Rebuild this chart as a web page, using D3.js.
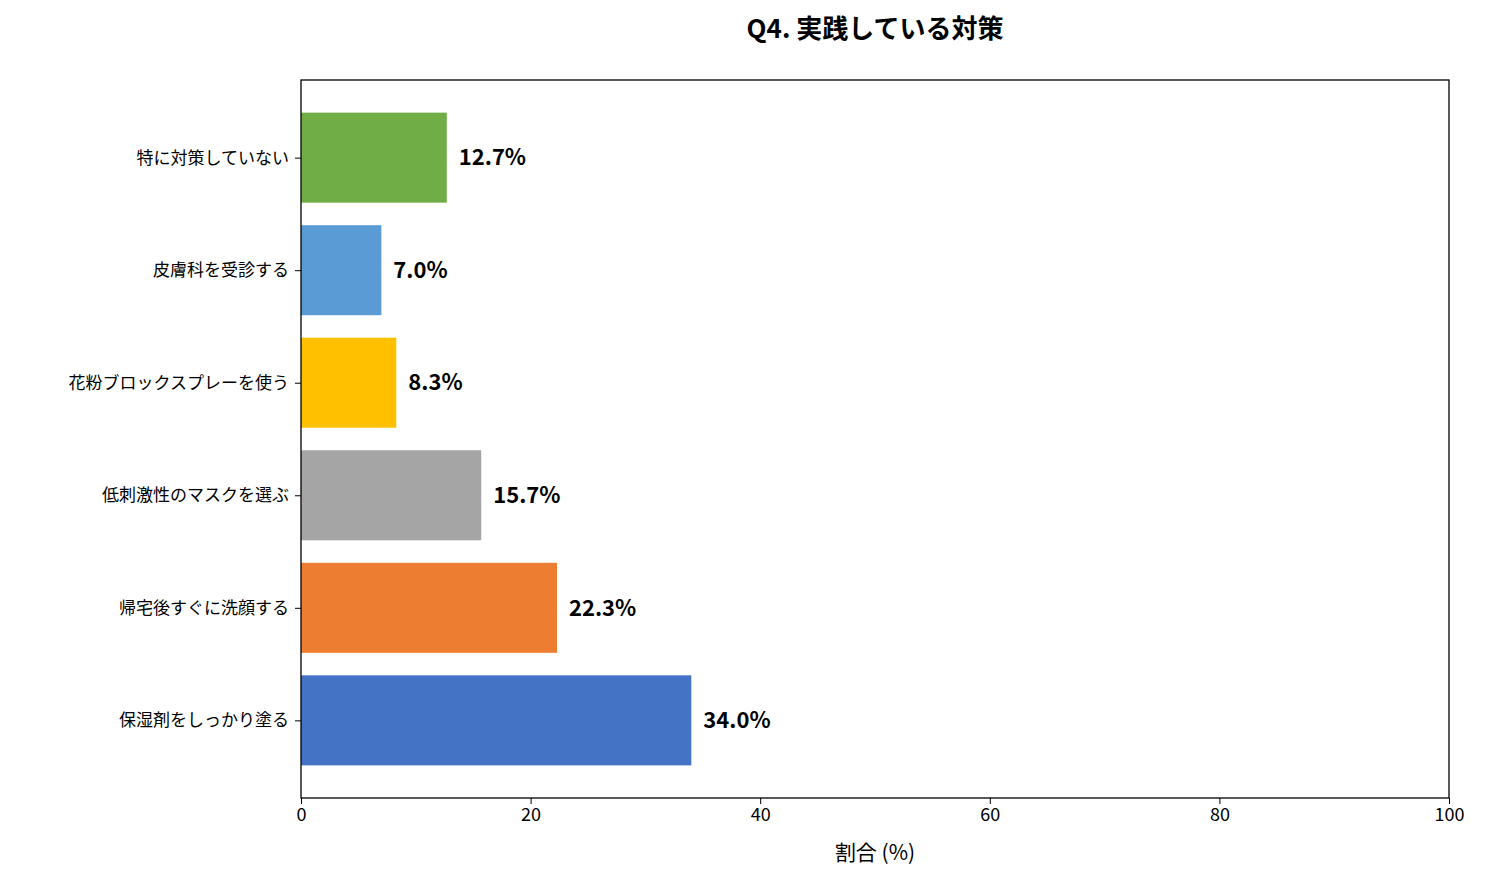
<!DOCTYPE html>
<html>
<head>
<meta charset="utf-8">
<script src="https://cdn.jsdelivr.net/npm/d3@7"></script>
<style>
body { margin: 0; background: #fff; }
text { font-family: "Noto Sans CJK JP", "Noto Sans", sans-serif; }
</style>
</head>
<body>
<div id="chart"></div>
<script>
// data, bottom to top
var categories = ["保湿剤をしっかり塗る", "帰宅後すぐに洗顔する", "低刺激性のマスクを選ぶ",
	"花粉ブロックスプレーを使う", "皮膚科を受診する", "特に対策していない"];
var values = [34.0, 22.3, 15.7, 8.3, 7.0, 12.7];
var colors = ["#4472C4", "#ED7D31", "#A5A5A5", "#FFC000", "#5B9BD5", "#70AD47"];
var xTicks = [0, 20, 40, 60, 80, 100];

var margin = { top: 80, right: 36, bottom: 83, left: 301 },
	width = 1485 - margin.left - margin.right,
	height = 881 - margin.top - margin.bottom;

var svg = d3.select("#chart")
	.append("svg")
	.attr("width", 1485)
	.attr("height", 881);

var g = svg.append("g")
	.attr("transform", "translate(" + margin.left + "," + margin.top + ")");

var x = d3.scaleLinear().domain([0, 100]).range([0, width]);
var y = d3.scaleLinear().domain([-0.69, 5.69]).range([height, 0]);
var barH = y(0) - y(0.8);

g.selectAll("rect.bar")
	.data(values)
	.join("rect")
	.attr("class", "bar")
	.attr("x", x(0))
	.attr("y", (d, i) => y(i + 0.4))
	.attr("width", d => x(d) - x(0))
	.attr("height", barH)
	.attr("fill", (d, i) => colors[i]);

// value labels
g.selectAll("text.val")
	.data(values)
	.join("text")
	.attr("class", "val")
	.attr("x", d => x(d) + 12)
	.attr("y", (d, i) => y(i))
	.attr("dy", "0.35em")
	.style("font-size", "22px")
	.style("font-weight", "bold")
	.text(d => d.toFixed(1) + "%");

// x axis
var xAxis = g.append("g")
	.attr("transform", "translate(0," + height + ")")
	.call(d3.axisBottom(x).tickValues(xTicks).tickSize(6).tickPadding(4));
xAxis.selectAll("text").style("font-size", "18px").attr("fill", "#000");

// y axis
var yAxis = g.append("g")
	.call(d3.axisLeft(y).tickValues(d3.range(categories.length))
		.tickFormat(i => categories[i]).tickSize(6).tickPadding(6));
yAxis.selectAll("text").style("font-size", "17px").attr("fill", "#000");
g.selectAll(".domain").remove();

// frame
g.append("rect")
	.attr("width", width).attr("height", height)
	.attr("fill", "none").attr("stroke", "#000").attr("stroke-width", 1.3);

svg.append("text")
	.attr("x", margin.left + width / 2).attr("y", 860)
	.attr("text-anchor", "middle")
	.style("font-size", "21px")
	.text("割合 (%)");

svg.append("text")
	.attr("x", 875).attr("y", 38)
	.attr("text-anchor", "middle")
	.style("font-size", "26px")
	.style("font-weight", "bold")
	.text("Q4. 実践している対策");
</script>
</body>
</html>
